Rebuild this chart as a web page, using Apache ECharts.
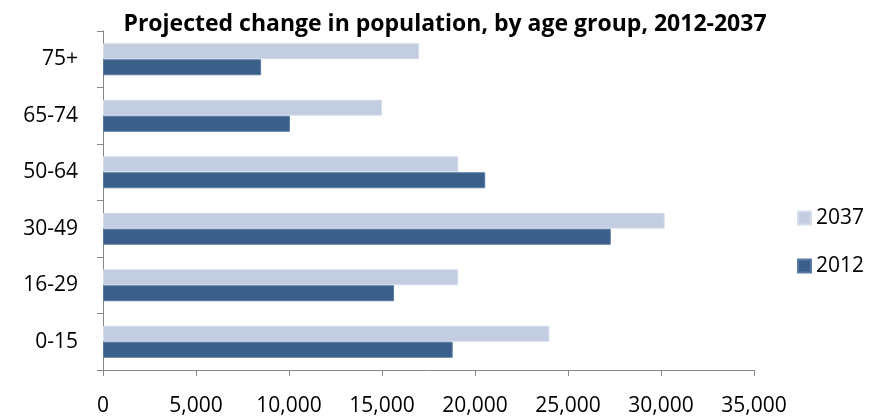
<!DOCTYPE html>
<html><head><meta charset="utf-8">
<script src="https://cdn.jsdelivr.net/npm/echarts@6/dist/echarts.min.js"></script>
<style>html,body{margin:0;padding:0;background:#fff}#c{width:869px;height:417px}</style>
</head><body><div id="c"></div>
<script>
const categories = ['0-15','16-29','30-49','50-64','65-74','75+'];
const values2012 = [18800, 15650, 27300, 20550, 10050, 8500];
const values2037 = [24000, 19100, 30200, 19100, 15000, 17000];
const xTicks = [0, 35000, 5000];

const chart = echarts.init(document.getElementById('c'));
const font = 'Open Sans';
chart.setOption({
  animation: false,
  backgroundColor: '#fff',
  title: {
    text: 'Projected change in population, by age group, 2012-2037',
    left: 440, textAlign: 'center', top: 5,
    textStyle: {fontFamily: font, fontWeight: 'bold', fontSize: 23, lineHeight: 29, color: '#000'}
  },
  legend: {
    orient: 'vertical', left: 792, top: 202, itemGap: 26,
    itemWidth: 13, itemHeight: 13, icon: 'rect',
    data: ['2037','2012'],
    textStyle: {fontFamily: font, fontSize: 21, lineHeight: 22, color: '#000'}
  },
  grid: {left: 103, right: 115, top: 31, bottom: 46, containLabel: false},
  xAxis: {
    type: 'value', min: xTicks[0], max: xTicks[1], interval: xTicks[2],
    splitLine: {show: false},
    axisLine: {show: true, lineStyle: {color: '#868686'}},
    axisTick: {show: true, length: 6, lineStyle: {color: '#868686'}},
    axisLabel: {fontFamily: font, fontSize: 21, color: '#000', margin: 26,
      formatter: v => v.toLocaleString('en-US')}
  },
  yAxis: {
    type: 'category', data: categories,
    axisLine: {show: true, lineStyle: {color: '#868686'}},
    axisTick: {show: true, length: 6, lineStyle: {color: '#868686'}},
    axisLabel: {fontFamily: font, fontSize: 21, color: '#000', margin: 25}
  },
  series: [
    {name: '2037', type: 'bar', data: values2037, barWidth: 16, barGap: '0%',
     itemStyle: {color: '#c3cde2', borderColor: '#d6deec', borderWidth: 1}},
    {name: '2012', type: 'bar', data: values2012, barWidth: 16, barGap: '0%',
     itemStyle: {color: '#3a5f8b', borderColor: '#5a7aa3', borderWidth: 1}}
  ]
});
</script></body></html>
